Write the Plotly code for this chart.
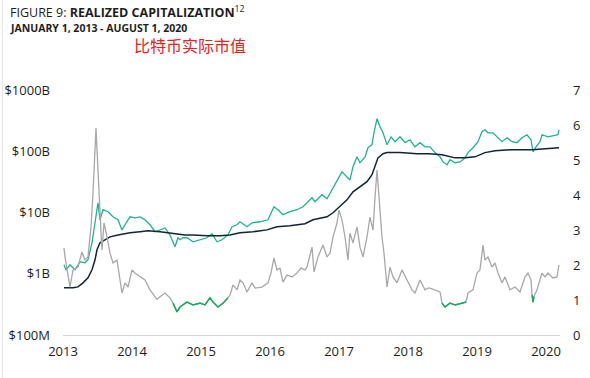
import plotly.graph_objects as go

# ---- data (x in chart years as drawn; caps in $B; MVRV ratio) ----
mvrv_t = [2013.014, 2013.029, 2013.101, 2013.145, 2013.217, 2013.275, 2013.319, 2013.362, 2013.406, 2013.435,
          2013.478, 2013.493, 2013.522, 2013.551, 2013.565, 2013.594, 2013.638, 2013.681, 2013.725, 2013.783,
          2013.855, 2013.899, 2013.942, 2014.000, 2014.043, 2014.116, 2014.188, 2014.261, 2014.333, 2014.362,
          2014.406, 2014.478, 2014.551, 2014.594, 2014.652, 2014.696, 2014.768, 2014.797, 2014.884, 2014.986,
          2015.058, 2015.130, 2015.174, 2015.246, 2015.319, 2015.391, 2015.420, 2015.464, 2015.522, 2015.565,
          2015.609, 2015.667, 2015.739, 2015.783, 2015.884, 2015.971, 2016.014, 2016.058, 2016.101, 2016.145,
          2016.188, 2016.246, 2016.319, 2016.391, 2016.449, 2016.507, 2016.536, 2016.609, 2016.638, 2016.696,
          2016.768, 2016.826, 2016.870, 2016.913, 2016.971, 2017.000, 2017.043, 2017.087, 2017.130, 2017.159,
          2017.203, 2017.261, 2017.304, 2017.348, 2017.406, 2017.449, 2017.493, 2017.522, 2017.551, 2017.580,
          2017.623, 2017.652, 2017.696, 2017.739, 2017.783, 2017.841, 2017.913, 2017.986, 2018.058, 2018.101,
          2018.174, 2018.246, 2018.290, 2018.319, 2018.391, 2018.464, 2018.493, 2018.536, 2018.609, 2018.681,
          2018.783, 2018.841, 2018.870, 2018.942, 2019.000, 2019.043, 2019.087, 2019.116, 2019.159, 2019.217,
          2019.261, 2019.304, 2019.362, 2019.406, 2019.478, 2019.551, 2019.623, 2019.696, 2019.739, 2019.783,
          2019.797, 2019.812, 2019.826, 2019.870, 2019.942, 2019.986, 2020.029, 2020.101, 2020.159, 2020.188]
mvrv = [2.49, 2.23, 1.37, 1.86, 1.94, 2.37, 2.14, 2.23, 3.09, 4.06,
        5.91, 5.20, 3.94, 2.91, 2.43, 3.20, 2.80, 2.34, 2.06, 2.14,
        1.20, 1.49, 1.37, 1.86, 1.77, 1.66, 1.57, 1.29, 1.09, 1.02,
        1.09, 1.20, 1.06, 0.91, 0.66, 0.80, 0.91, 0.94, 0.86, 0.91,
        0.86, 1.06, 0.94, 0.80, 0.91, 1.06, 1.14, 1.43, 1.29, 1.57,
        1.49, 1.23, 1.49, 1.34, 1.37, 1.49, 1.77, 2.20, 1.86, 1.91,
        1.51, 1.71, 1.66, 1.77, 1.91, 1.86, 1.94, 2.51, 1.80, 2.23,
        2.57, 2.23, 2.34, 2.80, 3.20, 3.57, 3.29, 2.80, 2.14, 2.91,
        2.63, 3.09, 2.51, 2.23, 2.80, 3.37, 3.00, 3.94, 4.71, 3.94,
        2.80, 2.34, 1.37, 1.94, 1.66, 1.49, 1.86, 1.57, 1.29, 1.20,
        1.57, 1.29, 1.34, 1.34, 1.29, 1.23, 0.91, 0.80, 0.91, 0.86,
        0.91, 0.94, 1.20, 1.29, 1.77, 1.86, 2.57, 2.14, 2.23, 1.94,
        2.06, 1.77, 1.49, 1.66, 1.29, 1.37, 1.23, 1.66, 1.77, 1.57,
        1.15, 0.94, 1.10, 1.29, 1.77, 1.66, 1.77, 1.63, 1.66, 2.00]
undervalued_periods = [(2014.58, 2015.40), (2018.48, 2018.85), (2019.79, 2019.83)]

mcap_t = [2013.014, 2013.043, 2013.101, 2013.174, 2013.246, 2013.319, 2013.362, 2013.420, 2013.464, 2013.507,
          2013.536, 2013.580, 2013.652, 2013.725, 2013.797, 2013.855, 2013.899, 2013.971, 2014.043, 2014.116,
          2014.188, 2014.261, 2014.333, 2014.406, 2014.478, 2014.551, 2014.623, 2014.667, 2014.696, 2014.739,
          2014.797, 2014.884, 2014.986, 2015.087, 2015.159, 2015.232, 2015.304, 2015.391, 2015.449, 2015.522,
          2015.565, 2015.667, 2015.739, 2015.855, 2015.971, 2016.029, 2016.058, 2016.116, 2016.188, 2016.290,
          2016.391, 2016.478, 2016.507, 2016.609, 2016.652, 2016.754, 2016.826, 2016.899, 2016.971, 2017.043,
          2017.116, 2017.159, 2017.203, 2017.261, 2017.304, 2017.377, 2017.420, 2017.478, 2017.507, 2017.551,
          2017.594, 2017.638, 2017.696, 2017.754, 2017.812, 2017.884, 2017.957, 2018.029, 2018.101, 2018.174,
          2018.246, 2018.319, 2018.391, 2018.464, 2018.507, 2018.565, 2018.609, 2018.681, 2018.754, 2018.826,
          2018.870, 2018.942, 2019.014, 2019.072, 2019.116, 2019.159, 2019.232, 2019.290, 2019.362, 2019.435,
          2019.507, 2019.580, 2019.652, 2019.725, 2019.783, 2019.812, 2019.855, 2019.913, 2019.942, 2020.029,
          2020.101, 2020.174, 2020.188]
mcap = [1.40, 1.16, 1.40, 1.16, 1.57, 1.51, 1.69, 3.2, 6.8, 14.4,
        7.6, 11.1, 10.3, 8.5, 7.6, 5.2, 6.3, 8.5, 8.2, 8.5,
        7.6, 6.3, 4.85, 5.2, 5.6, 4.3, 2.76, 3.87, 3.59, 3.87,
        3.87, 3.33, 3.59, 3.87, 4.5, 3.33, 3.59, 4.3, 5.85, 6.3,
        7.06, 5.85, 6.8, 7.06, 7.6, 10.3, 12.4, 11.1, 9.2, 10.3,
        11.1, 12.4, 13.4, 17.4, 15.0, 19.5, 16.8, 23.5, 31.8, 46,
        38, 34, 56, 81, 65, 81, 114, 128, 200, 340,
        251, 200, 128, 172, 143, 172, 138, 154, 118, 138,
        118, 118, 95, 81, 67, 60, 73, 65, 67, 78,
        95, 114, 143, 208, 224, 200, 200, 172, 143, 166,
        143, 138, 166, 186, 154, 98, 118, 143, 186, 172,
        179, 186, 224]

rcap_t = [2013.014, 2013.145, 2013.217, 2013.290, 2013.362, 2013.420, 2013.464, 2013.493, 2013.536, 2013.609,
          2013.681, 2013.797, 2013.971, 2014.116, 2014.232, 2014.406, 2014.594, 2014.768, 2014.884, 2015.087,
          2015.275, 2015.420, 2015.565, 2015.754, 2015.957, 2016.101, 2016.290, 2016.435, 2016.507, 2016.623,
          2016.826, 2016.913, 2017.014, 2017.116, 2017.203, 2017.304, 2017.406, 2017.478, 2017.522, 2017.565,
          2017.638, 2017.696, 2017.884, 2018.130, 2018.304, 2018.493, 2018.681, 2018.826, 2018.971, 2019.116,
          2019.261, 2019.507, 2019.797, 2019.986, 2020.188]
rcap = [0.59, 0.59, 0.61, 0.71, 0.86, 1.16, 1.69, 2.46, 3.2, 3.59,
        4.0, 4.3, 4.67, 4.85, 5.03, 4.85, 4.5, 4.3, 4.3, 4.17,
        4.17, 4.3, 4.67, 4.85, 5.2, 5.85, 6.08, 6.3, 6.55, 7.6,
        8.5, 9.9, 12.4, 16.1, 21.8, 26.3, 31.8, 41.3, 56, 78,
        91, 95, 95, 91, 91, 88, 78, 78, 81, 95,
        102, 106, 106, 110, 114]

year_ticks = [2013, 2014, 2015, 2016, 2017, 2018, 2019, 2020]
left_tickvals = [0.1, 1, 10, 100, 1000]
left_ticktext = ["$100M", "$1B", "$10B", "$100B", "$1000B"]
right_tickvals = [0, 1, 2, 3, 4, 5, 6, 7]

# ---- styling ----
FONT = "Open Sans"
GRAY = "#a8a8a8"
GREEN = "#16a865"
TEAL = "#1fb395"
DARK = "#0f2630"

# green overlay of MVRV in undervalued periods
green_t, green_v = [], []
for a, b in undervalued_periods:
    for t, v in zip(mvrv_t, mvrv):
        if a <= t <= b:
            green_t.append(t)
            green_v.append(v)
    green_t.append(None)
    green_v.append(None)

fig = go.Figure()
fig.add_trace(go.Scatter(x=mvrv_t, y=mvrv, mode="lines", yaxis="y2",
                         line=dict(color=GRAY, width=1.3), showlegend=False))
fig.add_trace(go.Scatter(x=green_t, y=green_v, mode="lines", yaxis="y2",
                         line=dict(color=GREEN, width=1.5), showlegend=False, connectgaps=False))
fig.add_trace(go.Scatter(x=mcap_t, y=mcap, mode="lines",
                         line=dict(color=TEAL, width=1.3), showlegend=False))
fig.add_trace(go.Scatter(x=rcap_t, y=rcap, mode="lines",
                         line=dict(color=DARK, width=1.5), showlegend=False))

PW, PH = 497, 245  # plot area size in px
x_end = 2013 + PW / 69
fig.update_layout(
    width=590, height=378,
    margin=dict(l=63, r=30, t=90, b=43, autoexpand=False),
    paper_bgcolor="white", plot_bgcolor="white",
    font=dict(family=FONT, size=13, color="#1e1e1e"),
    xaxis=dict(range=[2013, x_end], tickvals=year_ticks, ticktext=[str(y) for y in year_ticks],
               showgrid=False, zeroline=False, showline=True, linecolor="#d4d4d4", linewidth=1,
               ticks="", ticklabelstandoff=4, automargin=False),
    yaxis=dict(type="log", range=[-1, 3], tickvals=left_tickvals, ticktext=left_ticktext,
               showgrid=False, zeroline=False, showline=False, ticks="", ticklabelstandoff=12,
               automargin=False),
    yaxis2=dict(range=[0, 7], tickvals=right_tickvals, overlaying="y", side="right",
                showgrid=False, zeroline=False, showline=False, ticks="", ticklabelstandoff=12,
                automargin=False),
    shapes=[dict(type="line", xref="paper", yref="paper",
                 x0=(2.5 - 63) / PW, x1=(2.5 - 63) / PW, y0=(335 - 378) / PH, y1=335 / PH,
                 line=dict(color="#e4e4e4", width=1))],
    annotations=[
        dict(text="FIGURE 9: <b>REALIZED CAPITALIZATION</b><sup>12</sup>", xref="paper", yref="paper",
             x=(8 - 63) / PW, y=(335 - 12) / PH, xanchor="left", yanchor="middle", showarrow=False,
             font=dict(family=FONT, size=12.5, color="#1e1e1e")),
        dict(text="<b>JANUARY 1, 2013 - AUGUST 1, 2020</b>", xref="paper", yref="paper",
             x=(8 - 63) / PW, y=(335 - 28) / PH, xanchor="left", yanchor="middle", showarrow=False,
             font=dict(family=FONT, size=10.5, color="#1e1e1e")),
        dict(text="比特币实际市值", xref="paper", yref="paper",
             x=(132 - 63) / PW, y=(335 - 45) / PH, xanchor="left", yanchor="middle", showarrow=False,
             font=dict(family="Noto Sans CJK SC", size=16, color="#e8201e")),
    ],
)
fig.write_html("out.html", config={"displayModeBar": False},
               post_script="document.body.style.margin='0';document.body.style.overflow='hidden';")
